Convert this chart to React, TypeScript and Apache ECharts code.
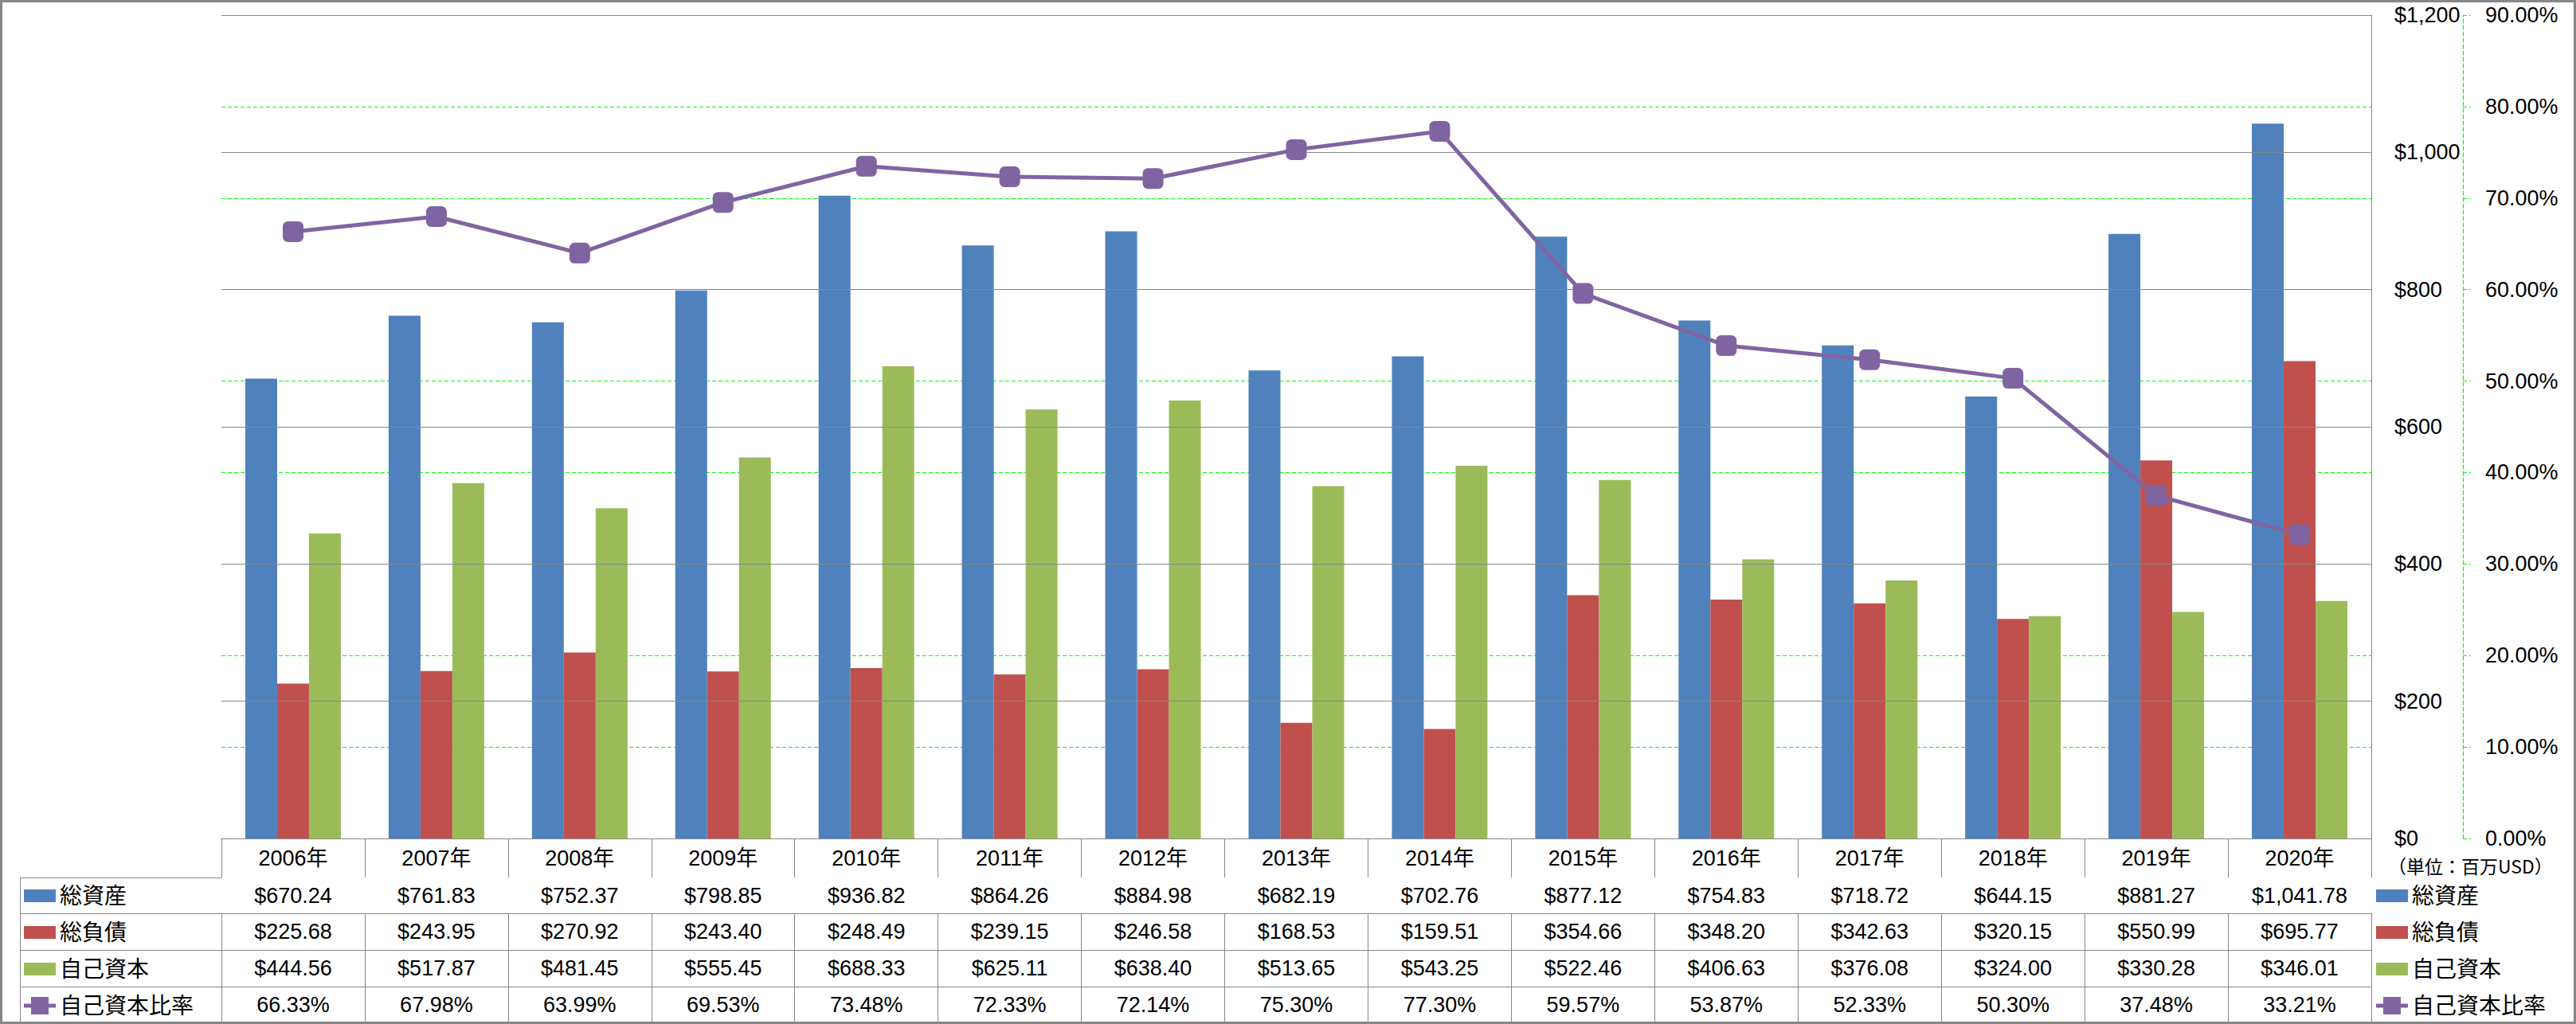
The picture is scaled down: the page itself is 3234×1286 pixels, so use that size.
import React, { useEffect, useRef } from "react";
import * as echarts from "echarts";

const years = ["2006年", "2007年", "2008年", "2009年", "2010年", "2011年", "2012年", "2013年", "2014年", "2015年", "2016年", "2017年", "2018年", "2019年", "2020年"];
const totalAssets = [670.24, 761.83, 752.37, 798.85, 936.82, 864.26, 884.98, 682.19, 702.76, 877.12, 754.83, 718.72, 644.15, 881.27, 1041.78];
const totalLiabilities = [225.68, 243.95, 270.92, 243.4, 248.49, 239.15, 246.58, 168.53, 159.51, 354.66, 348.2, 342.63, 320.15, 550.99, 695.77];
const equity = [444.56, 517.87, 481.45, 555.45, 688.33, 625.11, 638.4, 513.65, 543.25, 522.46, 406.63, 376.08, 324.0, 330.28, 346.01];
const equityRatio = [66.33, 67.98, 63.99, 69.53, 73.48, 72.33, 72.14, 75.3, 77.3, 59.57, 53.87, 52.33, 50.3, 37.48, 33.21];
const seriesNames = ["総資産", "総負債", "自己資本", "自己資本比率"];
const unitLabel = "（単位：百万USD）";

const W = 3234;
const H = 1286;
const plotLeft = 278;
const plotRight = 2977;
const plotTop = 19;
const plotBottom = 1053;
const rowEdges = [1053, 1102, 1147, 1193, 1239, 1284];
const labelColLeft = 25;

const BLUE = "#4F81BD";
const RED = "#C0504D";
const GREEN = "#9BBB59";
const PURPLE = "#8064A2";
const GRAY = "#878787";
const DASH_GREEN = "#00FF00";
const FONT = "'Liberation Sans', 'Noto Sans CJK JP', sans-serif";

const money = (v: number) =>
  "$" + v.toLocaleString("en-US", { minimumFractionDigits: 2, maximumFractionDigits: 2 });
const pct = (v: number) => v.toFixed(2) + "%";

const rowFormatters: Array<((i: number) => string) | null> = [
  null,
  (i) => money(totalAssets[i]),
  (i) => money(totalLiabilities[i]),
  (i) => money(equity[i]),
  (i) => pct(equityRatio[i]),
];

const barIcon = "path://M0,0M0,4L40,4L40,20L0,20ZM40,24";
const lineIcon =
  "path://M0,0M0,9.5L9,9.5L9,1L31,1L31,9.5L40,9.5L40,14.5L31,14.5L31,23L9,23L9,14.5L0,14.5ZM40,24";

export default function App() {
  const ref = useRef<HTMLDivElement>(null);

  useEffect(() => {
    if (!ref.current) return;
    const chart = echarts.init(ref.current, null, { renderer: "svg", width: W, height: H });

    const xAxes: any[] = rowFormatters.map((fmt, i) => {
      const top = rowEdges[i];
      const h = rowEdges[i + 1] - top;
      return {
        type: "category",
        data: years,
        gridIndex: 0,
        position: "bottom",
        offset: top - plotBottom,
        axisLine: { show: true, lineStyle: { color: GRAY, width: 1 } },
        axisTick: { show: true, length: h, lineStyle: { color: GRAY, width: 1 } },
        axisLabel: {
          show: true,
          interval: 0,
          margin: h / 2,
          verticalAlign: "middle",
          fontSize: 27,
          color: "#000",
          fontFamily: FONT,
          formatter: fmt ? (_v: string, idx: number) => fmt(idx) : (v: string) => v,
        },
        splitLine: { show: false },
      };
    });
    xAxes.push({
      type: "category",
      data: years,
      gridIndex: 0,
      position: "bottom",
      offset: rowEdges[5] - plotBottom,
      axisLine: { show: true, lineStyle: { color: GRAY, width: 1 } },
      axisTick: { show: false },
      axisLabel: { show: false },
      splitLine: { show: false },
    });

    const legendData = [
      { name: seriesNames[0], icon: barIcon, itemStyle: { color: BLUE, borderWidth: 0 } },
      { name: seriesNames[1], icon: barIcon, itemStyle: { color: RED, borderWidth: 0 } },
      { name: seriesNames[2], icon: barIcon, itemStyle: { color: GREEN, borderWidth: 0 } },
      { name: seriesNames[3], icon: lineIcon, itemStyle: { color: PURPLE, borderWidth: 0 } },
    ];
    const legendCommon = {
      orient: "vertical",
      itemWidth: 40,
      itemHeight: 24,
      itemGap: 16,
      padding: 0,
      selectedMode: false,
      textStyle: { fontSize: 28, lineHeight: 30, color: "#000", fontFamily: FONT },
      data: legendData,
    };

    const tableLines: any[] = [];
    for (let i = 1; i < rowEdges.length; i++) {
      tableLines.push({
        type: "line",
        shape: { x1: labelColLeft, y1: rowEdges[i] + 0.5, x2: plotLeft, y2: rowEdges[i] + 0.5 },
        style: { stroke: GRAY, lineWidth: 1 },
      });
    }
    tableLines.push({
      type: "line",
      shape: { x1: labelColLeft + 0.5, y1: rowEdges[1], x2: labelColLeft + 0.5, y2: rowEdges[5] },
      style: { stroke: GRAY, lineWidth: 1 },
    });

    const option: any = {
      animation: false,
      backgroundColor: "#fff",
      textStyle: { fontFamily: FONT },
      grid: {
        left: plotLeft,
        right: W - plotRight,
        top: plotTop,
        bottom: H - plotBottom,
        containLabel: false,
        outerBoundsMode: "none",
      },
      legend: [
        { ...legendCommon, left: labelColLeft + 5, top: 1110 },
        { ...legendCommon, left: 2983, top: 1110 },
      ],
      xAxis: xAxes,
      yAxis: [
        {
          type: "value",
          position: "right",
          min: 0,
          max: 1200,
          interval: 200,
          axisLine: { show: true, lineStyle: { color: GRAY, width: 1 } },
          axisTick: { show: false },
          axisLabel: {
            margin: 29,
            fontSize: 27,
            color: "#000",
            fontFamily: FONT,
            formatter: (v: number) => "$" + v.toLocaleString("en-US"),
          },
          splitLine: { show: true, lineStyle: { color: GRAY, width: 1 } },
          z: 3,
        },
        {
          type: "value",
          position: "right",
          offset: 115,
          min: 0,
          max: 90,
          interval: 10,
          axisLine: { show: true, lineStyle: { color: DASH_GREEN, width: 1.2, type: [5, 3] } },
          axisTick: { show: true, length: 10, lineStyle: { color: DASH_GREEN, width: 1.2, type: [5, 3] } },
          axisLabel: {
            margin: 28,
            fontSize: 27,
            color: "#000",
            fontFamily: FONT,
            formatter: (v: number) => v.toFixed(2) + "%",
          },
          splitLine: { show: true, lineStyle: { color: DASH_GREEN, width: 1.2, type: [5, 3] } },
          z: 2,
        },
      ],
      series: [
        { name: seriesNames[0], type: "bar", xAxisIndex: 0, yAxisIndex: 0, data: totalAssets, barWidth: 40, barGap: "0%", itemStyle: { color: BLUE } },
        { name: seriesNames[1], type: "bar", xAxisIndex: 0, yAxisIndex: 0, data: totalLiabilities, barWidth: 40, barGap: "0%", itemStyle: { color: RED } },
        { name: seriesNames[2], type: "bar", xAxisIndex: 0, yAxisIndex: 0, data: equity, barWidth: 40, barGap: "0%", itemStyle: { color: GREEN } },
        {
          name: seriesNames[3],
          type: "line",
          xAxisIndex: 0,
          yAxisIndex: 1,
          data: equityRatio,
          symbol: "roundRect",
          symbolSize: 26,
          lineStyle: { width: 5, color: PURPLE },
          itemStyle: { color: PURPLE },
          z: 5,
        },
      ],
      graphic: [
        ...tableLines,
        {
          type: "text",
          x: 2998,
          y: 1087,
          style: {
            text: unitLabel,
            font: "23px 'Noto Sans CJK JP', sans-serif",
            fill: "#000",
            verticalAlign: "middle",
            align: "left",
          },
        },
        {
          type: "rect",
          shape: { x: 1.5, y: 1.5, width: W - 3, height: H - 3 },
          style: { fill: "none", stroke: GRAY, lineWidth: 3 },
          z: 100,
        },
      ],
    };

    chart.setOption(option);
    return () => chart.dispose();
  }, []);

  return (
    <div style={{ position: "fixed", left: 0, top: 0, width: W, height: H, background: "#fff" }}>
      <div ref={ref} style={{ width: W, height: H }} />
    </div>
  );
}
